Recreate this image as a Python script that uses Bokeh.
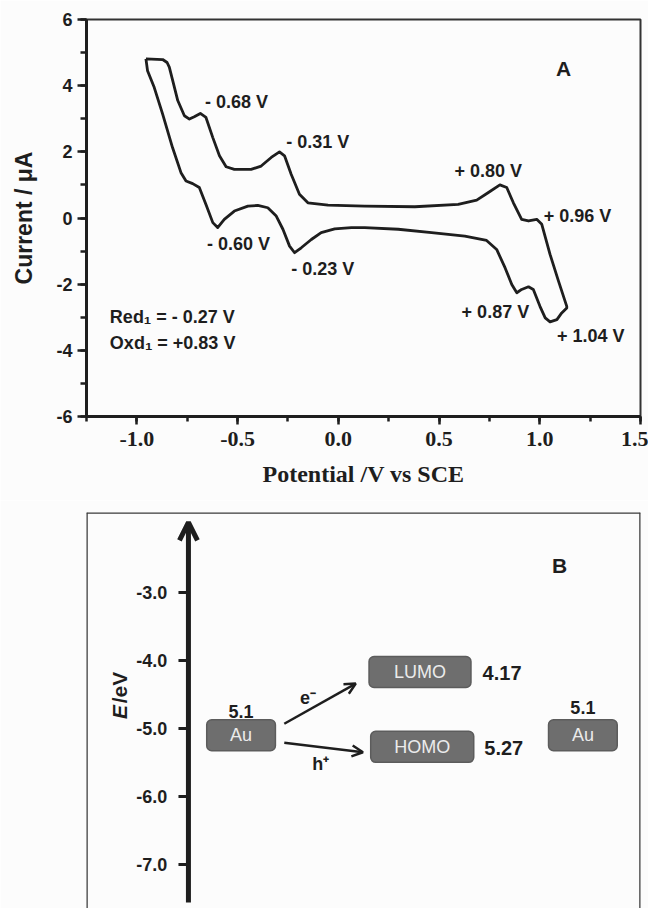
import math
from bokeh.plotting import figure
from bokeh.layouts import column
from bokeh.models import SingleIntervalTicker, PrintfTickFormatter, Span, Arrow, OpenHead
from bokeh.embed import file_html
from bokeh.resources import INLINE
from bokeh.core.properties import value

# ---------------- data: panel A (cyclic voltammogram) ----------------
cv_potential = [-0.955, -0.872, -0.850, -0.839, -0.822, -0.797, -0.764, -0.739, -0.715, -0.685,
                -0.657, -0.623, -0.590, -0.557, -0.516, -0.433, -0.383, -0.333, -0.292, -0.267,
                -0.234, -0.193, -0.151, -0.051, 0.131, 0.380, 0.595, 0.687, 0.745, 0.802,
                0.836, 0.869, 0.910, 0.944, 0.985, 1.010, 1.051, 1.093, 1.134,
                1.134, 1.109, 1.085, 1.051, 1.027, 1.001, 0.968, 0.944, 0.910, 0.886,
                0.861, 0.828, 0.786, 0.736, 0.628, 0.463, 0.297, 0.131, 0.065, -0.018,
                -0.085, -0.134, -0.184, -0.217, -0.242, -0.275, -0.308, -0.350, -0.400, -0.449,
                -0.516, -0.566, -0.599, -0.623, -0.657, -0.690, -0.723, -0.756, -0.781, -0.823,
                -0.872, -0.914, -0.947, -0.955]
cv_current = [4.81, 4.79, 4.70, 4.56, 4.15, 3.55, 3.09, 2.99, 3.06, 3.16,
              3.04, 2.43, 1.88, 1.55, 1.47, 1.47, 1.57, 1.83, 2.00, 1.88,
              1.32, 0.72, 0.46, 0.39, 0.36, 0.34, 0.41, 0.54, 0.77, 1.00,
              0.92, 0.46, -0.04, -0.09, -0.04, -0.19, -1.10, -1.91, -2.67,
              -2.72, -2.87, -3.07, -3.14, -3.02, -2.67, -2.16, -2.08, -2.16, -2.26,
              -2.01, -1.51, -0.95, -0.68, -0.55, -0.44, -0.34, -0.29, -0.29, -0.33,
              -0.44, -0.65, -0.90, -1.05, -0.85, -0.34, 0.06, 0.31, 0.38, 0.36,
              0.21, -0.04, -0.29, -0.14, 0.41, 0.92, 1.04, 1.12, 1.37, 2.13,
              3.14, 3.95, 4.45, 4.81]
peak_labels = ["- 0.68 V", "- 0.31 V", "- 0.60 V", "- 0.23 V",
               "+ 0.80 V", "+ 0.96 V", "+ 0.87 V", "+ 1.04 V"]
summary_labels = ["Red\u2081 = - 0.27 V", "Oxd\u2081 = +0.83 V"]

# ---------------- data: panel B (energy levels) ----------------
level_names = ["Au", "LUMO", "HOMO", "Au"]
level_energies = [5.1, 4.17, 5.27, 5.1]
level_value_labels = ["5.1", "4.17", "5.27", "5.1"]
energy_ticks = [-3.0, -4.0, -5.0, -6.0, -7.0]
energy_tick_labels = ["-3.0", "-4.0", "-5.0", "-6.0", "-7.0"]
carrier_labels = ["e\u207b", "h\u207a"]

SANS = value("Liberation Sans")
BG = "#fcfcfc"
INK = "#1e1e1e"

# ================= Panel A =================
p1 = figure(width=648, height=500, x_range=(-1.25, 1.5), y_range=(-6, 6),
            output_backend="svg", toolbar_location=None,
            min_border_left=86, min_border_right=8, min_border_top=19, min_border_bottom=84)
p1.background_fill_color = BG
p1.border_fill_color = BG
p1.grid.visible = False
p1.outline_line_color = "#333333"
p1.outline_line_width = 2

p1.xaxis.ticker = SingleIntervalTicker(interval=0.5, num_minor_ticks=2)
p1.xaxis.formatter = PrintfTickFormatter(format="%.1f")
p1.yaxis.ticker = SingleIntervalTicker(interval=2, num_minor_ticks=2)
p1.yaxis.formatter = PrintfTickFormatter(format="%d")
for ax in (p1.xaxis[0], p1.yaxis[0]):
    ax.axis_line_width = 3
    ax.axis_line_color = INK
    ax.major_tick_line_width = 2.5
    ax.minor_tick_line_width = 2.5
    ax.major_tick_line_color = INK
    ax.minor_tick_line_color = INK
    ax.major_tick_in = 0
    ax.minor_tick_in = 0
    ax.major_label_text_color = INK
    ax.axis_label_text_color = INK
    ax.axis_label_text_font_style = "bold"
    ax.major_label_text_font_style = "bold"
p1.xaxis.major_tick_out = 8
p1.xaxis.minor_tick_out = 5
p1.yaxis.major_tick_out = 9
p1.yaxis.minor_tick_out = 6
p1.xaxis.axis_label = "Potential /V vs SCE"
p1.xaxis.axis_label_text_font = "Liberation Serif"
p1.xaxis.axis_label_text_font_size = "24px"
p1.xaxis.major_label_text_font = "Liberation Serif"
p1.xaxis.major_label_text_font_size = "22px"
p1.xaxis.major_label_standoff = 7
p1.xaxis.axis_label_standoff = 12
p1.yaxis.axis_label = "Current / \u03bcA"
p1.yaxis.axis_label_text_font = "Liberation Sans"
p1.yaxis.axis_label_text_font_size = "23px"
p1.yaxis.major_label_text_font = "Liberation Sans"
p1.yaxis.major_label_text_font_size = "18px"
p1.yaxis.major_label_standoff = 5
p1.yaxis.axis_label_standoff = 16

p1.line(cv_potential, cv_current, line_color=INK, line_width=2.8, line_join="round")

label_x = [-0.662, -0.259, -0.652, -0.234, 0.577, 1.020, 0.612, 1.085]
label_y = [3.52, 2.30, -0.79, -1.55, 1.42, 0.06, -2.85, -3.58]
p1.text(x=label_x, y=label_y, text=peak_labels, text_font=SANS, text_font_style="bold",
        text_font_size="18px", text_color=INK, text_align="left", text_baseline="middle")
p1.text(x=[-1.134, -1.134], y=[-3.0, -3.79], text=summary_labels, text_font=SANS,
        text_font_style="bold", text_font_size="18px", text_color=INK,
        text_align="left", text_baseline="middle")
p1.text(x=[1.118], y=[4.52], text=["A"], text_font=SANS, text_font_style="bold",
        text_font_size="21px", text_color=INK, text_align="center", text_baseline="middle")

# ================= Panel B =================
y_top, y_bot = -1.824, -7.647
p2 = figure(width=648, height=408, x_range=(0, 100), y_range=(y_bot, y_top),
            x_axis_type=None, y_axis_type=None,
            output_backend="svg", toolbar_location=None,
            min_border_left=85, min_border_right=8, min_border_top=12, min_border_bottom=0)
p2.background_fill_color = BG
p2.border_fill_color = BG
p2.grid.visible = False
p2.outline_line_color = None
for loc, dim in ((y_top, "width"), (0, "height"), (100, "height")):
    p2.add_layout(Span(location=loc, dimension=dim, line_color="#3a3a3a", line_width=2.5))

axis_x = 18.4
p2.add_layout(Arrow(x_start=axis_x, y_start=-7.559, x_end=axis_x, y_end=-1.97,
                    line_width=5, line_color=INK,
                    end=OpenHead(size=18, line_width=5, line_color=INK)))
p2.segment(x0=[axis_x - 1.8] * len(energy_ticks), y0=energy_ticks,
           x1=[axis_x] * len(energy_ticks), y1=energy_ticks, line_color=INK, line_width=3)
p2.text(x=[axis_x - 3.8] * len(energy_ticks), y=energy_ticks, text=energy_tick_labels,
        text_font=SANS, text_font_style="bold", text_font_size="18px", text_color=INK,
        text_align="right", text_baseline="middle")
p2.text(x=[5.95], y=[-4.86], text=["E"], angle=math.pi / 2, text_font=SANS,
        text_font_style="bold italic", text_font_size="21px", text_color=INK,
        text_align="left", text_baseline="middle")
p2.text(x=[5.95], y=[-4.63], text=["/eV"], angle=math.pi / 2, text_font=SANS,
        text_font_style="bold", text_font_size="21px", text_color=INK,
        text_align="left", text_baseline="middle")

box_cx = [27.9, 60.2, 60.6, 89.6]
box_w = [12.4, 18.4, 18.6, 12.4]
half_h = 0.228
levels_y = [-e for e in level_energies]
p2.quad(left=[c - w / 2 for c, w in zip(box_cx, box_w)],
        right=[c + w / 2 for c, w in zip(box_cx, box_w)],
        top=[y + half_h for y in levels_y], bottom=[y - half_h for y in levels_y],
        fill_color="#6e6e6e", line_color="#5c5c5c", line_width=1.5, border_radius=5)
p2.text(x=box_cx, y=levels_y, text=level_names, text_font=SANS, text_font_size="18px",
        text_color="#ebebeb", text_align="center", text_baseline="middle")
# Au values above boxes, LUMO/HOMO values to the right
p2.text(x=[box_cx[0], box_cx[3]], y=[levels_y[0] + half_h + 0.03, levels_y[3] + half_h + 0.09],
        text=[level_value_labels[0], level_value_labels[3]], text_font=SANS,
        text_font_style="bold", text_font_size="18px", text_color=INK,
        text_align="center", text_baseline="bottom")
p2.text(x=[71.5, 71.8], y=[levels_y[1] - 0.02, levels_y[2] - 0.02],
        text=[level_value_labels[1], level_value_labels[2]], text_font=SANS,
        text_font_style="bold", text_font_size="20px", text_color=INK,
        text_align="left", text_baseline="middle")

p2.add_layout(Arrow(x_start=35.7, y_start=levels_y[0] + 0.17, x_end=48.6, y_end=levels_y[1] - 0.17,
                    line_width=2.5, line_color=INK, end=OpenHead(size=11, line_width=2.5, line_color=INK)))
p2.add_layout(Arrow(x_start=35.7, y_start=levels_y[0] - 0.11, x_end=49.9, y_end=levels_y[2] - 0.08,
                    line_width=2.5, line_color=INK, end=OpenHead(size=11, line_width=2.5, line_color=INK)))
p2.text(x=[40.0, 42.3], y=[-4.559, -5.515], text=carrier_labels, text_font=SANS,
        text_font_style="bold", text_font_size="18px", text_color=INK,
        text_align="center", text_baseline="middle")
p2.text(x=[85.4], y=[-2.603], text=["B"], text_font=SANS, text_font_style="bold",
        text_font_size="21px", text_color=INK, text_align="center", text_baseline="middle")

layout = column(p1, p2, spacing=0)
open("out.html", "w").write(file_html(layout, INLINE))
